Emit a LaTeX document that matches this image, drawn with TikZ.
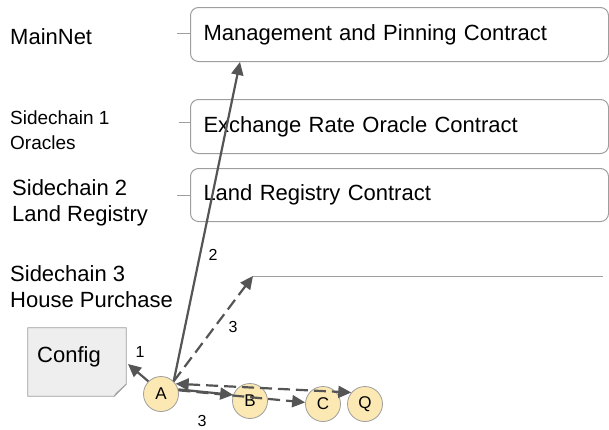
\documentclass[tikz,border=0pt]{standalone}
\usepackage{fontspec}
\setmainfont{Liberation Sans}
\usepackage{tikz}
\usetikzlibrary{arrows.meta}

\definecolor{boxgray}{HTML}{9E9E9E}
\definecolor{arrgray}{HTML}{555555}
\definecolor{notefill}{HTML}{EEEEEE}
\definecolor{foldfill}{HTML}{C8C8C8}
\definecolor{stepfill}{HTML}{FCE8B2}

\begin{document}
\begin{tikzpicture}[x=1pt,y=-1pt,
    chain/.style={anchor=west,align=left,inner sep=0pt,
      font=\fontsize{22}{26}\selectfont},
    contract/.style={draw=boxgray,line width=1pt,rounded corners=8pt,
      anchor=north west,minimum width=418pt,minimum height=54pt,
      text width=392pt,inner xsep=13pt,align=left,
      font=\fontsize{22}{26}\selectfont},
    tick/.style={draw=boxgray,line width=0.8pt},
    stepnode/.style={circle,draw=boxgray,fill=stepfill,line width=0.8pt,
      minimum size=35pt,inner sep=0pt,font=\fontsize{17}{19}\selectfont},
    arr/.style={draw=arrgray,line width=2.2pt,
      -{Triangle[length=13pt,width=12pt]}},
    darr/.style={arr,dash pattern=on 12pt off 6pt},
    num/.style={inner sep=0pt,font=\fontsize{16}{18}\selectfont}]
  \useasboundingbox (0,0) rectangle (609,429);

  \node[chain] (mainnet) at (10,37) {MainNet};
  \node[chain,font=\fontsize{19}{25}\selectfont] (side1) at (10,130)
    {Sidechain 1\\Oracles};
  \node[chain] (side2) at (12,203) {Sidechain 2\\Land Registry};
  \node[chain] (side3) at (10,287) {Sidechain 3\\House Purchase};

  \node[contract] (mgmt) at (190,7) {Management and Pinning Contract};
  \node[contract] (oracle) at (190,99) {Exchange Rate Oracle Contract};
  \node[contract,minimum height=53pt] (land) at (190,168)
    {Land Registry Contract};

  \coordinate (t1) at (177,33);
  \coordinate (t2) at (179,122);
  \coordinate (t3) at (177,195);
  \draw[tick] (t1) -- (mgmt.west |- t1);
  \draw[tick] (t2) -- (oracle.west |- t2);
  \draw[tick] (t3) -- (land.west |- t3);

  % house purchase chain (no contract yet)
  \coordinate (hp) at (253,276);
  \coordinate (hpend) at (603,276);
  \draw[tick] (hp) -- (hpend);

  \node[inner sep=0pt,minimum width=98pt,minimum height=68pt] (cfg)
    at (77,362) {};
  \fill[notefill,draw=boxgray,line width=0.8pt]
    (cfg.north west) -- (cfg.north east) -- ([yshift=12pt]cfg.south east)
    -- ([xshift=-12pt]cfg.south east) -- (cfg.south west) -- cycle;
  \fill[foldfill,draw=boxgray,line width=0.6pt]
    ([yshift=12pt]cfg.south east) -- ([xshift=-12pt]cfg.south east)
    -- ([xshift=-10pt,yshift=3pt]cfg.south east) -- cycle;
  \node[anchor=west,inner sep=0pt,font=\fontsize{22}{26}\selectfont]
    (cfgtxt) at (37,357) {Config};

  \node[stepnode] (A) at (161,394) {A};
  \node[stepnode] (B) at (250,401) {B};
  \node[stepnode] (C) at (323,404) {C};
  \node[stepnode] (Q) at (365,404) {Q};

  \coordinate (m2) at (240,62);
  \coordinate (c1) at (128,364);
  \draw[arr] (A.135) -- (c1);
  \draw[arr] (A.45) -- (m2);
  \draw[darr] (A.45) -- (hp);
  \draw[arr] (A.15) -- (B.160);
  \draw[darr] (A.12) -- (C.175);
  \draw[darr,{Triangle[length=13pt,width=12pt]}-{Triangle[length=13pt,width=12pt]}]
    (A.35) -- (Q.140);

  \node[num] (n1) at (140,352) {1};
  \node[num] (n2) at (213,255) {2};
  \node[num] (n3) at (233,327) {3};
  \node[num] (n4) at (202,421) {3};
\end{tikzpicture}
\end{document}
